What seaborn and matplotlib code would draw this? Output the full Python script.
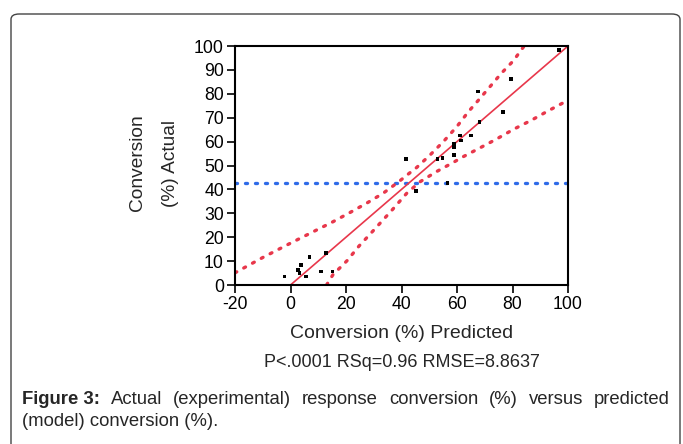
import numpy as np
import pandas as pd
import matplotlib.pyplot as plt
import seaborn as sns
from matplotlib.patches import FancyBboxPatch

# Observed points (predicted vs actual conversion, %)
predicted = [-2.2, 2.6, 3.3, 3.8, 5.6, 6.9, 10.9, 12.7, 15.1, 41.6, 45.3, 53.0, 54.8,
             56.6, 59.0, 59.0, 59.0, 61.0, 61.4, 65.1, 68.1, 67.5, 76.5, 79.5, 96.8]
actual = [3.6, 6.3, 4.9, 8.4, 3.6, 11.6, 5.6, 13.5, 5.6, 52.7, 39.4, 52.7, 53.2,
          42.6, 54.5, 57.8, 59.2, 62.5, 60.5, 62.5, 68.3, 80.9, 72.4, 86.2, 98.2]

# Fit line and confidence curves
fit_x = [0, 100]
fit_y = [0, 100]
upper_x = [-20, -10, 0, 15.2, 21.4, 27.4, 33.4, 39.0, 42.2, 45.5, 50.3, 55.1,
           59.9, 64.1, 68.0, 71.9, 76.0, 80.3, 84.2]
upper_y = [5.1, 11.5, 17.5, 26.4, 30.3, 34.2, 38.4, 43.2, 46.2, 49.2, 54.4, 60.0,
           66.2, 72.5, 77.7, 83.0, 88.6, 93.8, 100]
lower_x = [13.0, 15.4, 18.0, 20.4, 24.7, 29.8, 36.4, 41.9, 46.7, 52.7, 58.7, 61.6,
           68.0, 74.3, 80.3, 86.9, 92.9, 100]
lower_y = [0, 4.5, 7.4, 10.2, 16.3, 22.7, 31.1, 38.4, 43.2, 47.5, 51.3, 53.3,
           57.2, 61.1, 65.1, 69.0, 72.9, 77.3]
mean_actual = 42.8

x_ticks = [-20, 0, 20, 40, 60, 80, 100]
y_ticks = list(range(0, 101, 10))

red = '#E8374B'
blue = '#2F6BE8'

sns.set_style('white')
plt.rcParams['font.family'] = ['Liberation Sans', 'DejaVu Sans']
plt.rcParams['axes.unicode_minus'] = False

W, H = 683, 444
fig = plt.figure(figsize=(W / 100, H / 100), dpi=100)

# rounded frame around the figure panel
frame = FancyBboxPatch((11 / W, -0.05), 669 / W, 1.05 - 14 / H,
                       boxstyle='round,pad=0,rounding_size=0.012',
                       transform=fig.transFigure, fill=False,
                       edgecolor='#444444', lw=1.0)
fig.patches.append(frame)

ax = fig.add_axes([235 / W, 1 - 285 / H, 333 / W, 239 / H])

dot_style = dict(linestyle=(0, (0.6, 2.4)), dash_capstyle='round', lw=2.4)
ax.axhline(mean_actual, color=blue, **dot_style)
sns.lineplot(x=upper_x, y=upper_y, color=red, ax=ax, **dot_style)
sns.lineplot(x=lower_x, y=lower_y, color=red, ax=ax, **dot_style)
sns.lineplot(x=fit_x, y=fit_y, color=red, lw=1.2, ax=ax)
sns.scatterplot(x=predicted, y=actual, marker='s', s=7, color='black',
                edgecolor='none', ax=ax, zorder=5)

ax.set_xlim(-20, 100)
ax.set_ylim(0, 100)
ax.set_xticks(x_ticks)
ax.set_yticks(y_ticks)
ax.tick_params(direction='out', length=6, width=1.2, labelsize=12.7, pad=2,
               bottom=True, left=True, colors='black')
for s in ax.spines.values():
    s.set_color('black')
    s.set_linewidth(1.5)

fig.text(154 / W, 1 - 163 / H, 'Conversion\n(%) Actual', rotation=90,
         ha='center', va='center', multialignment='center', fontsize=13.8,
         linespacing=2.25)
fig.text(402 / W, 1 - 333 / H, 'Conversion (%) Predicted', ha='center',
         va='center', fontsize=14)
fig.text(402 / W, 1 - 362 / H, 'P<.0001 RSq=0.96 RMSE=8.8637', ha='center',
         va='center', fontsize=13)

# caption: first line justified between x=22 and x=670
cap_words = ['Figure 3:', 'Actual', '(experimental)', 'response', 'conversion',
             '(%)', 'versus', 'predicted']
renderer = fig.canvas.get_renderer()
texts = []
for w in cap_words:
    t = fig.text(0, 1 - 399 / H, w, va='center', fontsize=13.3,
                 fontweight='bold' if w.startswith('Figure') else 'normal')
    texts.append(t)
widths = [t.get_window_extent(renderer=renderer).width for t in texts]
gap = (648 - sum(widths)) / (len(texts) - 1)
xpos = 22
for t, wd in zip(texts, widths):
    t.set_x(xpos / W)
    xpos += wd + gap
fig.text(22 / W, 1 - 421 / H, '(model) conversion (%).', va='center', fontsize=13.3)

fig.savefig('out.png', dpi=100)
